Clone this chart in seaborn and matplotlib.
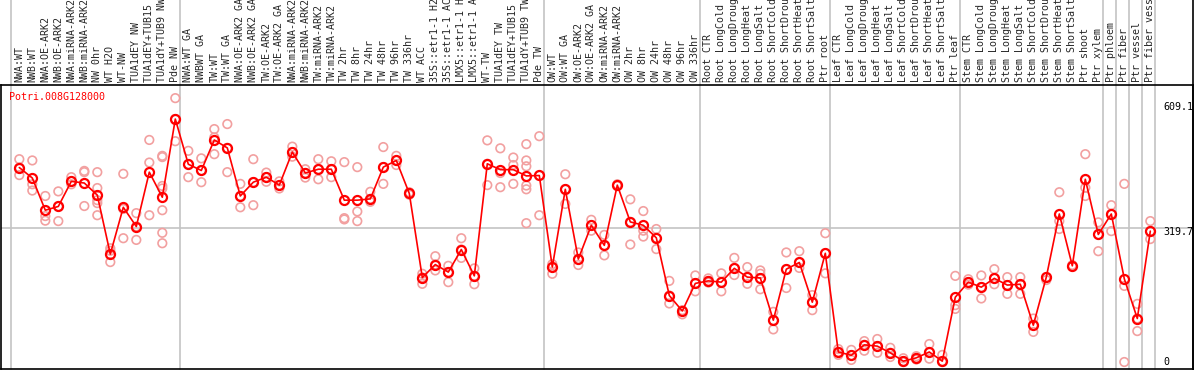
import numpy as np
import pandas as pd
import matplotlib
matplotlib.use("Agg")
import matplotlib.pyplot as plt
import seaborn as sns

sns.set_style("white")
plt.rcParams['font.family'] = ['DejaVu Sans Mono']

gene = "Potri.008G128000"

labels = [
    "NWA:WT", "NWB:WT", "NWA:OE-ARK2", "NWB:OE-ARK2", "NWA:miRNA-ARK2", "NWB:miRNA-ARK2",
    "NW 0hr", "WT H2O", "WT-NW", "TUA1dEY NW", "TUA1dEY+TUB15 NW", "TUA1dY+TUB9 NW", "Pde NW",
    "NWA:WT GA", "NWBWT GA", "TW:WT", "TW:WT GA", "NWA:OE-ARK2 GA", "NWB:OE-ARK2 GA",
    "TW:OE-ARK2", "TW:OE-ARK2 GA", "NWA:miRNA-ARK2", "NWB:miRNA-ARK2", "TW:miRNA-ARK2",
    "TW:miRNA-ARK2", "TW 2hr", "TW 8hr", "TW 24hr", "TW 48hr", "TW 96hr", "TW 336hr",
    "WT ACC", "35S::etr1-1 H2O", "35S::etr1-1 ACC", "LMX5::etr1-1 H2O", "LMX5::etr1-1 ACC",
    "WT-TW", "TUA1dEY TW", "TUA1dEY+TUB15 TW", "TUA1dY+TUB9 TW", "Pde TW",
    "OW:WT", "OW:WT GA", "OW:OE-ARK2", "OW:OE-ARK2 GA", "OW:miRNA-ARK2", "OW:miRNA-ARK2",
    "OW 2hr", "OW 8hr", "OW 24hr", "OW 48hr", "OW 96hr", "OW 336hr",
    "Root CTR", "Root LongCold", "Root LongDrought", "Root LongHeat", "Root LongSalt",
    "Root ShortCold", "Root ShortDrought", "Root ShortHeat", "Root ShortSalt", "Ptr root",
    "Leaf CTR", "Leaf LongCold", "Leaf LongDrought", "Leaf LongHeat", "Leaf LongSalt",
    "Leaf ShortCold", "Leaf ShortDrought", "Leaf ShortHeat", "Leaf ShortSalt", "Ptr leaf",
    "Stem CTR", "Stem LongCold", "Stem LongDrought", "Stem LongHeat", "Stem LongSalt",
    "Stem ShortCold", "Stem ShortDrought", "Stem ShortHeat", "Stem ShortSalt",
    "Ptr shoot", "Ptr xylem", "Ptr phloem", "Ptr fiber", "Ptr vessel", "Ptr fiber vessel",
]

means = [465, 440, 363, 372, 432, 428, 399, 258, 370, 324, 454, 394, 581,
         473, 458, 531, 512, 397, 430, 442, 423, 502, 452, 461, 461, 387, 387, 390,
         466, 482, 403, 202, 233, 215, 269, 206, 474, 460, 460, 445, 446,
         227, 413, 246, 327, 279, 423, 335, 327, 297, 159, 122, 188,
         194, 191, 224, 203, 201, 100, 222, 238, 143, 260,
         24, 16, 41, 38, 22, 2, 10, 24, 2, 155,
         191, 179, 200, 184, 186, 88, 203, 354, 230, 437, 305, 354, 199, 104, 313]

reps = [
    [485, 447, 465], [482, 425, 410], [397, 349, 338], [408, 337, 372], [442, 425, 432],
    [457, 454, 373], [454, 416, 387, 380, 351], [272, 266, 239], [450, 366, 296],
    [356, 292, 324], [531, 477, 351], [493, 490, 421, 415, 363, 309, 284], [631, 528, 581],
    [505, 442, 473], [487, 430, 458], [557, 537, 497], [569, 454, 512], [426, 370, 397],
    [485, 375, 430], [453, 431, 442], [432, 415, 423], [515, 491, 502], [461, 441, 452],
    [485, 437, 461], [480, 442, 461], [478, 344, 341], [466, 360, 337], [407, 383, 390],
    [514, 426, 466], [493, 471, 482], [406, 400, 403], [211, 187, 202], [253, 219, 233],
    [230, 191, 215], [296, 249, 269], [224, 186, 206], [530, 423, 474], [511, 452, 418],
    [489, 471, 426], [521, 482, 468, 422, 413, 332], [540, 351, 446], [234, 211, 227],
    [449, 378, 413], [262, 232, 246], [340, 314, 327], [304, 255, 279], [425, 421, 423],
    [389, 281, 335], [361, 314, 300], [318, 270, 297], [194, 140, 159], [124, 114, 122],
    [207, 169, 188], [200, 190, 194], [212, 169, 191], [249, 208, 224], [227, 187, 203],
    [219, 211, 174], [120, 78, 100], [262, 177, 222], [265, 225, 238], [160, 124, 143],
    [308, 212, 260], [31, 17, 24], [29, 5, 16], [50, 27, 41], [55, 22, 38], [34, 12, 22],
    [9, 0, 2], [14, 6, 10], [43, 8, 24], [17, 0, 2], [206, 136, 127], [198, 185, 191],
    [207, 152, 179], [222, 186, 200], [203, 163, 184], [203, 163, 186], [104, 72, 88],
    [196, 203], [406, 337, 318], [232, 228], [497, 417, 397], [334, 265, 305],
    [375, 313, 354], [426, 182, 0], [139, 74, 104], [337, 294, 313],
]

# group separators (after these categories)
group_ends = [-1, 12, 40, 52, 62, 72, 83, 84, 85, 86, 87]
y_ticks = [609.1, 319.7, 0]

pos = np.arange(len(labels))
rep_df = pd.DataFrame([(i, v) for i, vals in enumerate(reps) for v in vals], columns=["pos", "value"])

W, H = 1194, 370
fig = plt.figure(figsize=(W / 100, H / 100), dpi=100)
ax = fig.add_axes([1 / W, 1 / H, 1192 / W, 284 / H])

px = 13.0
x0 = -1.408
ax.set_xlim(x0, x0 + 1192 / px)
ax.set_ylim(-16.7, 662.4)

ax.axhline(319.7, color="#c4c4c4", lw=1.2, zorder=1)
for g in group_ends:
    ax.axvline(g + 0.38, ymin=0, ymax=1 + 85 / 284, color="#c4c4c4", lw=1.2, clip_on=False, zorder=1)

sns.scatterplot(data=rep_df, x="pos", y="value", ax=ax, marker="o", s=38,
                facecolors="none", edgecolor="#f2a0a0", linewidth=1.2, zorder=2, legend=False)
sns.lineplot(x=pos, y=means, ax=ax, color="#ff0000", lw=1.2, marker="o", markersize=6.5,
             markerfacecolor="none", markeredgecolor="#ff0000", markeredgewidth=1.6, zorder=3)

ax.xaxis.tick_top()
ax.set_xticks(pos)
ax.set_xticklabels(labels, rotation=90, fontsize=7.2)
for t in ax.get_xticklabels():
    t.set_x(t.get_position()[0])
ax.tick_params(axis="x", length=0, pad=2)
ax.set_yticks([])
ax.set_xlabel("")
ax.set_ylabel("")
for s in ax.spines.values():
    s.set_color("black")
    s.set_linewidth(1.2)

for v in y_ticks:
    dy = -2.5 if v == 319.7 else 0
    ax.annotate(f"{v:g}" if v else "0", xy=(x0 + 1162 / px, v), xytext=(0, dy), textcoords="offset points",
                ha="left", va="center", fontsize=7.2, color="black")

ax.text(8 / 1192, 1 - 12 / 284, gene, transform=ax.transAxes, color="red", fontsize=7.2,
        ha="left", va="center")

fig.add_artist(plt.Line2D([1193 / W, 1193 / W], [0, 1], color="black", lw=1.2))

fig.savefig("out.png", dpi=100)
